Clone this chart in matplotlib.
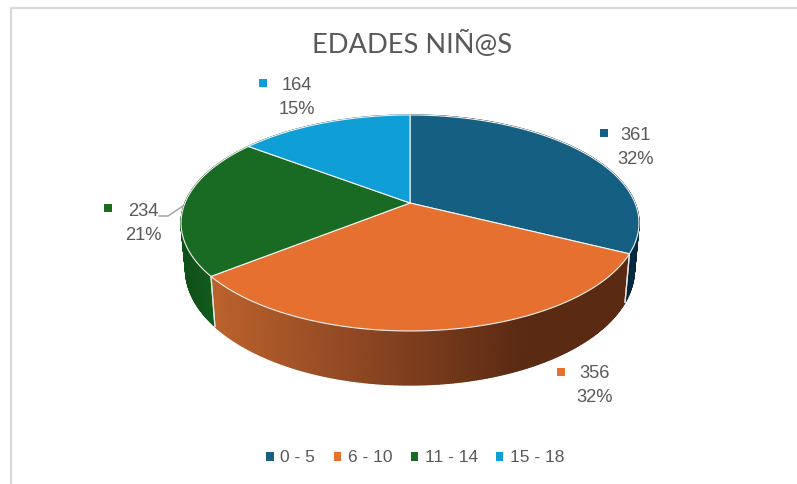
import numpy as np
import matplotlib
matplotlib.use('Agg')
import matplotlib.pyplot as plt
from matplotlib.colors import LinearSegmentedColormap
from matplotlib.patches import Patch, Polygon

# data
age_groups = ['0 - 5', '6 - 10', '11 - 14', '15 - 18']
counts = [361, 356, 234, 164]
percents = ['32%', '32%', '21%', '15%']
colors = ['#156082', '#E6702F', '#196B24', '#0F9ED5']

GREY = '#595959'
CX, CY = 410, 203
A, B, K = 225, 104.3, 0.185   # perspective of the top disc, in pixels
SX, SY, DEPTH = 0.98, 1.07, 45   # bottom rim relative to top rim

# colour of the side wall, left to right
wall_cmaps = [
    LinearSegmentedColormap.from_list('w0', ['#03293F', '#03293F']),
    LinearSegmentedColormap.from_list('w1', [(0, '#BC622C'), (0.38, '#8A4522'),
                                             (0.75, '#5A2A12'), (1, '#5A2A12')]),
    LinearSegmentedColormap.from_list('w2', ['#0F4F18', '#1A6B24']),
    LinearSegmentedColormap.from_list('w3', ['#0B6E96', '#0B6E96']),
]


def top_rim(theta):
    # theta in degrees, clockwise from 12 o'clock
    t = np.radians(90 - theta)
    w = 1 + K * np.sin(t)
    return CX + A * np.cos(t) / w, CY - B * np.sin(t) / w


def bottom_rim(theta):
    x, y = top_rim(theta)
    return CX + SX * (x - CX), CY + SY * (y - CY) + DEPTH


fig = plt.figure(figsize=(7.97, 4.84), dpi=100)
ax = fig.add_axes([0, 0, 1, 1])
ax.set_xlim(0, 797)
ax.set_ylim(484, 0)
ax.axis('off')

# chart frame, only top and left are in the crop
ax.plot([11, 11, 797], [484, 7.5, 7.5], color='#D9D9D9', lw=1.6)

edges = np.concatenate([[0], np.cumsum(counts)]) * 360 / np.sum(counts)

# side walls first, the top discs cover what is behind
for i in range(len(counts)):
    th = np.linspace(edges[i], edges[i + 1], int(edges[i + 1] - edges[i]) * 2 + 2)
    tx, ty = top_rim(th)
    bx, by = bottom_rim(th)
    for j in range(len(th) - 1):
        frac = (tx[j] - tx.min()) / (tx.max() - tx.min())
        ax.add_patch(Polygon([(tx[j], ty[j]), (tx[j + 1], ty[j + 1]),
                              (bx[j + 1], by[j + 1]), (bx[j], by[j])],
                             facecolor=wall_cmaps[i](frac),
                             edgecolor=wall_cmaps[i](frac), lw=1.0, zorder=2))
    for e in (edges[i], edges[i + 1]):
        x0, y0 = top_rim(e)
        x1, y1 = bottom_rim(e)
        if 90 < e < 270:
            ax.plot([x0, x1], [y0, y1], color='#E8E8E8', lw=0.9, zorder=3)

# top discs
for i in range(len(counts)):
    th = np.linspace(edges[i], edges[i + 1], 200)
    tx, ty = top_rim(th)
    pts = np.column_stack([np.r_[CX, tx], np.r_[CY, ty]])
    ax.add_patch(Polygon(pts, closed=True, facecolor=colors[i],
                         edgecolor='#F2F2F2', lw=0.8, zorder=4))

# data labels
label_pos = [(636, 135), (595, 374), (143, 212), (297, 85)]
marker_pos = [(604, 133), (561, 372), (108, 208), (263, 83)]
for i in range(len(counts)):
    x, y = label_pos[i]
    ax.text(x, y, str(counts[i]), ha='center', va='center', color=GREY,
            fontsize=13.2, family='Liberation Sans', zorder=6)
    ax.text(x, y + 24, percents[i], ha='center', va='center', color=GREY,
            fontsize=13.2, family='Liberation Sans', zorder=6)
    ax.scatter(*marker_pos[i], marker='s', s=30, color=colors[i], lw=0, zorder=6)

# leader line for the 234 label
ax.plot([159, 168, 183], [216, 216, 206], color='#A6A6A6', lw=1.1, zorder=5)

ax.text(412, 45, 'EDADES NIÑ@S', ha='center', va='center', color=GREY,
        fontsize=19.6, family='Lato')

handles = [Patch(facecolor=c, edgecolor='none') for c in colors]
leg = ax.legend(handles, age_groups, loc='center', bbox_to_anchor=(415.5 / 797, 1 - 458 / 484),
                ncol=4, frameon=False, labelcolor=GREY,
                prop={'family': 'Liberation Sans', 'size': 12.5},
                handlelength=0.42, handleheight=0.42, handletextpad=0.4,
                columnspacing=1.05)

fig.savefig('out.png', dpi=100)
